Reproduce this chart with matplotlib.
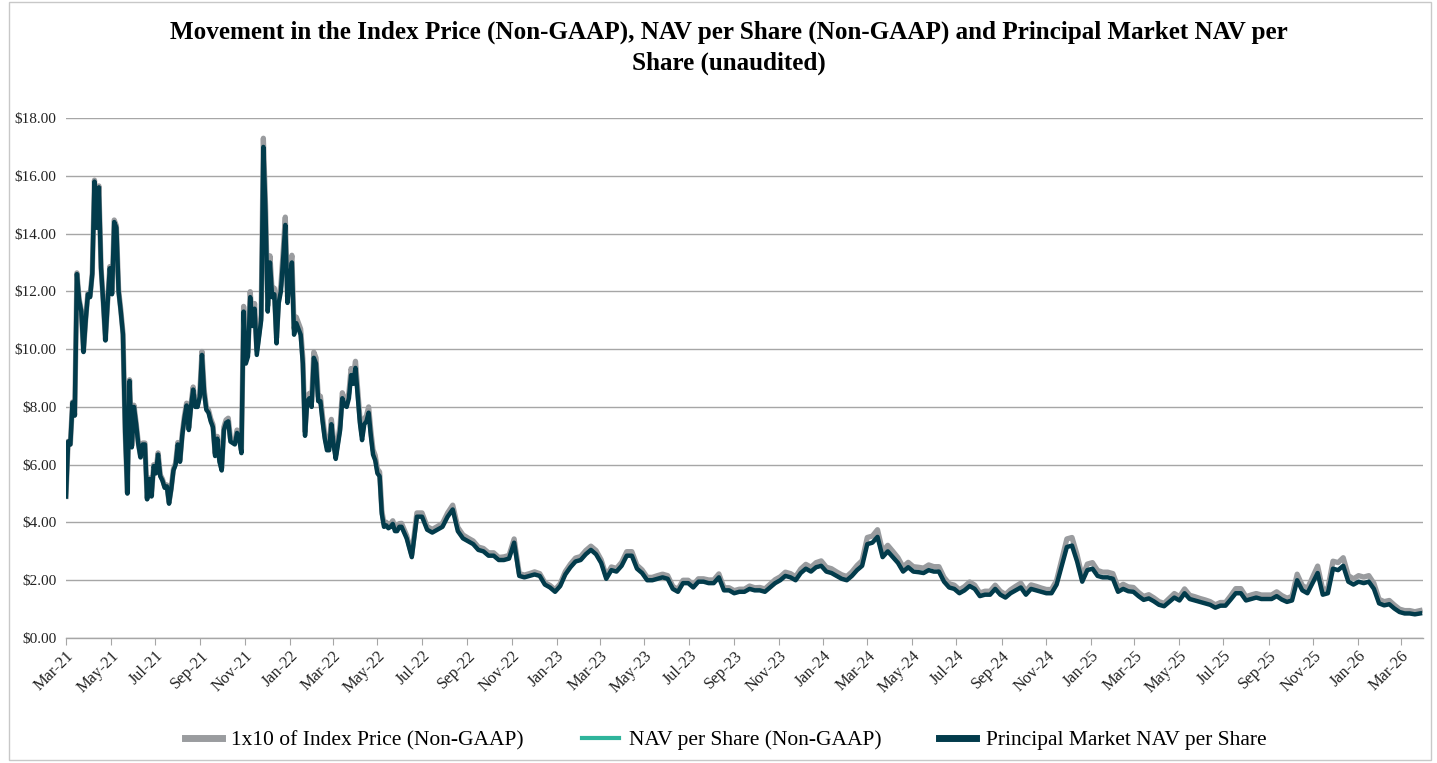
import matplotlib
matplotlib.use("Agg")
import matplotlib.pyplot as plt
import matplotlib.dates as mdates
from matplotlib.ticker import FuncFormatter, MultipleLocator
from matplotlib.patches import Rectangle
import pandas as pd

plt.rcParams["font.family"] = ["Liberation Serif", "DejaVu Serif"]

# sampling of the chart: every 3 days up to May-22, weekly afterwards
early_dates = pd.date_range("2021-03-01", "2022-05-31", freq="3D")
late_dates = pd.date_range("2022-06-03", "2026-03-27", freq="7D")

# Principal Market NAV per Share ($)
principal_nav_early = [
    4.9, 6.8, 6.7, 8.15, 7.7, 12.6, 11.7, 11.3, 9.9, 11.0,
    11.9, 11.8, 12.6, 15.8, 14.2, 15.6, 12.8, 11.6, 10.3, 11.6,
    12.8, 11.9, 14.4, 14.2, 12.0, 11.3, 10.5, 7.1, 5.0, 8.9,
    6.6, 8.0, 7.4, 6.7, 6.25, 6.7, 6.7, 4.8, 5.5, 4.9,
    5.95, 5.7, 6.35, 5.6, 5.45, 5.2, 5.25, 4.65, 5.15, 5.8,
    6.0, 6.7, 6.1, 7.0, 7.6, 8.05, 7.2, 8.0, 8.6, 8.0,
    8.0, 8.35, 9.8, 8.5, 7.9, 7.8, 7.5, 7.3, 6.3, 6.9,
    6.1, 5.8, 7.2, 7.45, 7.5, 6.8, 6.75, 6.7, 7.1, 6.9,
    6.4, 11.3, 9.5, 9.75, 11.8, 10.8, 11.4, 9.8, 10.4, 11.0,
    17.0, 14.7, 11.3, 13.0, 11.8, 11.9, 10.2, 11.6, 12.0, 13.1,
    14.3, 11.6, 12.4, 13.0, 10.5, 10.9, 10.7, 10.5, 9.5, 7.0,
    8.2, 8.3, 8.0, 9.7, 9.5, 8.2, 8.2, 7.5, 6.9, 6.5,
    6.5, 7.4, 6.7, 6.2, 6.7, 7.2, 8.3, 8.05, 8.0, 8.3,
    9.1, 8.8, 9.35, 8.4, 7.45, 6.85, 7.4, 7.5, 7.8, 7.0,
    6.35, 6.15, 5.7, 5.6, 4.3, 3.85, 3.9, 3.8, 3.85, 3.95,
    3.7, 3.7, 3.85,
]
principal_nav_late = [
    3.85, 3.45, 2.8, 4.2, 4.2, 3.75, 3.65, 3.75, 3.85, 4.2,
    4.45, 3.7, 3.45, 3.35, 3.25, 3.05, 3.0, 2.85, 2.85, 2.7,
    2.7, 2.75, 3.3, 2.15, 2.1, 2.15, 2.2, 2.15, 1.85, 1.75,
    1.6, 1.8, 2.2, 2.45, 2.65, 2.7, 2.9, 3.05, 2.9, 2.6,
    2.05, 2.35, 2.3, 2.5, 2.85, 2.85, 2.4, 2.25, 2.0, 2.0,
    2.05, 2.1, 2.05, 1.7, 1.6, 1.9, 1.9, 1.75, 1.95, 1.95,
    1.9, 1.9, 2.1, 1.65, 1.65, 1.55, 1.6, 1.6, 1.7, 1.65,
    1.65, 1.6, 1.75, 1.9, 2.0, 2.15, 2.1, 2.0, 2.25, 2.4,
    2.3, 2.45, 2.5, 2.3, 2.25, 2.15, 2.05, 2.0, 2.15, 2.35,
    2.5, 3.25, 3.3, 3.5, 2.8, 3.0, 2.8, 2.6, 2.3, 2.45,
    2.3, 2.28, 2.25, 2.35, 2.3, 2.3, 1.95, 1.75, 1.7, 1.55,
    1.65, 1.8, 1.7, 1.45, 1.5, 1.5, 1.7, 1.5, 1.4, 1.55,
    1.65, 1.75, 1.5, 1.7, 1.65, 1.6, 1.55, 1.55, 1.85, 2.5,
    3.15, 3.2, 2.65, 1.95, 2.35, 2.4, 2.15, 2.1, 2.1, 2.05,
    1.6, 1.7, 1.62, 1.6, 1.45, 1.32, 1.37, 1.27, 1.15, 1.1,
    1.25, 1.4, 1.3, 1.55, 1.35, 1.3, 1.25, 1.2, 1.15, 1.05,
    1.12, 1.12, 1.33, 1.55, 1.55, 1.3, 1.35, 1.4, 1.35, 1.35,
    1.35, 1.45, 1.33, 1.25, 1.3, 2.0, 1.65, 1.55, 1.9, 2.25,
    1.5, 1.55, 2.4, 2.35, 2.5, 1.95, 1.85, 1.95, 1.9, 1.95,
    1.7, 1.2, 1.13, 1.17, 1.02, 0.9, 0.85, 0.85, 0.82, 0.85,
]

# 1x10 of Index Price ($), the grey line sitting just above the NAV
index_tenth_early = [
    4.90, 6.81, 6.71, 8.17, 7.72, 12.64, 11.74, 11.34, 9.93, 11.04,
    11.94, 11.84, 12.64, 15.85, 14.24, 15.65, 12.84, 11.64, 10.33, 11.64,
    12.86, 11.96, 14.47, 14.27, 12.06, 11.36, 10.55, 7.14, 5.03, 8.94,
    6.65, 8.06, 7.45, 6.75, 6.29, 6.75, 6.75, 4.83, 5.54, 4.93,
    6.0, 5.75, 6.41, 5.65, 5.5, 5.25, 5.3, 4.69, 5.2, 5.85,
    6.06, 6.77, 6.16, 7.07, 7.68, 8.13, 7.27, 8.08, 8.69, 8.08,
    8.1, 8.45, 9.92, 8.6, 7.99, 7.89, 7.59, 7.39, 6.38, 6.98,
    6.19, 5.88, 7.3, 7.55, 7.61, 6.9, 6.84, 6.79, 7.2, 7.0,
    6.5, 11.48, 9.65, 9.91, 11.99, 10.97, 11.58, 9.96, 10.57, 11.18,
    17.3, 14.96, 11.5, 13.23, 12.01, 12.11, 10.38, 11.81, 12.22, 13.34,
    14.57, 11.82, 12.64, 13.25, 10.7, 11.11, 10.9, 10.7, 9.68, 7.13,
    8.37, 8.47, 8.17, 9.9, 9.7, 8.37, 8.37, 7.66, 7.04, 6.64,
    6.65, 7.57, 6.85, 6.34, 6.85, 7.37, 8.49, 8.24, 8.18, 8.49,
    9.33, 9.02, 9.58, 8.61, 7.64, 7.02, 7.59, 7.69, 8.0, 7.18,
    6.52, 6.32, 5.85, 5.75, 4.42, 3.95, 4.01, 3.9, 3.95, 4.06,
    3.81, 3.81, 3.96,
]
index_tenth_late = [
    3.97, 3.55, 2.88, 4.33, 4.33, 3.86, 3.76, 3.86, 3.97, 4.33,
    4.6, 3.83, 3.57, 3.46, 3.36, 3.15, 3.1, 2.95, 2.95, 2.79,
    2.81, 2.86, 3.43, 2.23, 2.18, 2.23, 2.29, 2.23, 1.92, 1.82,
    1.67, 1.88, 2.3, 2.56, 2.77, 2.82, 3.03, 3.18, 3.03, 2.71,
    2.15, 2.46, 2.41, 2.62, 2.99, 2.99, 2.52, 2.36, 2.1, 2.1,
    2.16, 2.21, 2.16, 1.79, 1.68, 2.0, 2.0, 1.84, 2.05, 2.05,
    2.01, 2.01, 2.22, 1.74, 1.74, 1.64, 1.69, 1.69, 1.8, 1.74,
    1.75, 1.7, 1.86, 2.02, 2.12, 2.28, 2.23, 2.12, 2.39, 2.55,
    2.45, 2.61, 2.67, 2.45, 2.4, 2.29, 2.19, 2.13, 2.29, 2.51,
    2.68, 3.48, 3.53, 3.75, 3.0, 3.21, 3.0, 2.78, 2.46, 2.62,
    2.47, 2.45, 2.42, 2.53, 2.47, 2.47, 2.1, 1.88, 1.83, 1.67,
    1.78, 1.94, 1.83, 1.56, 1.62, 1.62, 1.83, 1.62, 1.51, 1.67,
    1.79, 1.9, 1.62, 1.84, 1.79, 1.73, 1.68, 1.68, 2.0, 2.71,
    3.43, 3.48, 2.88, 2.12, 2.56, 2.61, 2.34, 2.28, 2.28, 2.23,
    1.75, 1.86, 1.77, 1.75, 1.58, 1.44, 1.5, 1.39, 1.26, 1.2,
    1.37, 1.54, 1.43, 1.7, 1.48, 1.43, 1.37, 1.32, 1.26, 1.15,
    1.23, 1.23, 1.46, 1.71, 1.71, 1.43, 1.49, 1.54, 1.49, 1.49,
    1.49, 1.6, 1.47, 1.38, 1.44, 2.21, 1.82, 1.71, 2.1, 2.49,
    1.67, 1.72, 2.66, 2.61, 2.78, 2.16, 2.05, 2.16, 2.11, 2.16,
    1.89, 1.34, 1.26, 1.3, 1.14, 1.0, 0.95, 0.95, 0.91, 0.95,
]

dates = early_dates.append(late_dates)
principal_nav = principal_nav_early + principal_nav_late
index_tenth = index_tenth_early + index_tenth_late
# NAV per Share runs on top of the Principal Market NAV at this scale
nav_per_share = principal_nav

assert len(dates) == len(principal_nav) == len(index_tenth)

GREY = "#9a9c9f"
TEAL = "#2fb49b"
NAVY = "#023b4b"
GRID = "#a6a6a6"

fig = plt.figure(figsize=(14.37, 7.63), dpi=100)
ax = fig.add_axes([0.0459, 0.1638, 0.9443, 0.6815])

ax.plot(dates, index_tenth, color=GREY, lw=3.8, label="1x10 of Index Price (Non-GAAP)",
        solid_joinstyle="round")
ax.plot(dates, nav_per_share, color=TEAL, lw=2.2, label="NAV per Share (Non-GAAP)")
ax.plot(dates, principal_nav, color=NAVY, lw=3.2, label="Principal Market NAV per Share",
        solid_joinstyle="round")

ax.set_ylim(0, 18)
ax.set_xlim(pd.Timestamp("2021-03-01"), pd.Timestamp("2026-03-31"))
ax.yaxis.set_major_locator(MultipleLocator(2))
ax.yaxis.set_major_formatter(FuncFormatter(lambda v, _: f"${v:.2f}"))
ax.grid(axis="y", color=GRID, lw=1.0)
ax.set_axisbelow(True)

ax.xaxis.set_major_locator(mdates.MonthLocator(bymonth=[1, 3, 5, 7, 9, 11], bymonthday=1))
ax.xaxis.set_major_formatter(mdates.DateFormatter("%b-%y"))

for side in ["top", "right", "left"]:
    ax.spines[side].set_visible(False)
ax.spines["bottom"].set_color(GRID)
ax.spines["bottom"].set_linewidth(1.0)

ax.tick_params(axis="y", length=0, pad=7, labelsize=11, labelcolor="#222222")
ax.tick_params(axis="x", direction="out", length=5, color=GRID, pad=2,
               labelsize=11.8, labelcolor="#222222")
for lab in ax.get_xticklabels():
    lab.set_rotation(45)
    lab.set_ha("right")
    lab.set_rotation_mode("anchor")

fig.text(0.507, 0.938,
         "Movement in the Index Price (Non-GAAP), NAV per Share (Non-GAAP) and Principal Market NAV per\nShare (unaudited)",
         ha="center", va="center", fontsize=18.1, fontweight="bold", linespacing=1.42)

leg = fig.legend(loc="center", bbox_to_anchor=(0.505, 0.03), ncol=3, frameon=False,
                 fontsize=15.5, handlelength=1.7, handletextpad=0.45, columnspacing=2.7)
for line, width in zip(leg.get_lines(), [5, 3, 5]):
    line.set_linewidth(width)

fig.patches.append(Rectangle((0.006, 0.004), 0.99, 0.993, transform=fig.transFigure,
                             fill=False, edgecolor="#c8c8c8", lw=1.0))

fig.savefig("out.png", dpi=100)
